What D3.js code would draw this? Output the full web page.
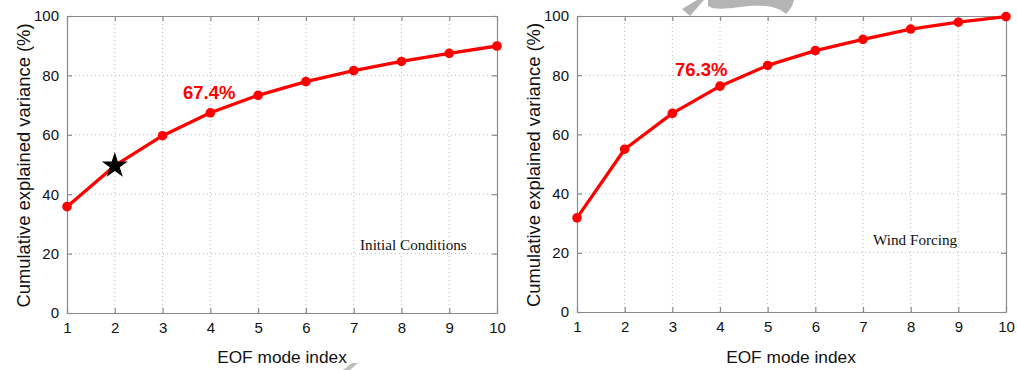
<!DOCTYPE html>
<html>
<head>
<meta charset="utf-8">
<script src="https://cdn.jsdelivr.net/npm/d3@7"></script>
<style>
  html, body { margin: 0; padding: 0; background: #fff; }
  svg { display: block; }
</style>
</head>
<body>
<svg id="chart" width="1017" height="370"></svg>
<script>
// ---- data ----
const modes = [1, 2, 3, 4, 5, 6, 7, 8, 9, 10];
const initialConditions = [35.8, 49.6, 59.7, 67.4, 73.3, 77.9, 81.6, 84.7, 87.4, 89.9];
const windForcing = [31.8, 55.0, 67.1, 76.3, 83.3, 88.3, 92.1, 95.6, 97.9, 99.8];
const xTicks = [1, 2, 3, 4, 5, 6, 7, 8, 9, 10];
const yTicks = [0, 20, 40, 60, 80, 100];
const panelLabels = ["Initial Conditions", "Wind Forcing"];
const highlights = ["67.4%", "76.3%"];
const starMode = 2;              // star marker on the first panel
const xLabel = "EOF mode index";
const yLabel = "Cumulative explained variance (%)";

const svg = d3.select("#chart");

// decorative grey watermark fragments from the scanned page
svg.append("path")
  .attr("d", "M682,9 L697,0 L704,0 L690,16 Z")
  .attr("fill", "#b4b4b4");
svg.append("path")
  .attr("d", "M708,0 L794,0 C793,5 790,10 786,14 C778,6 760,4 740,7 C725,9 714,10 708,6 Z")
  .attr("fill", "#b4b4b4");
svg.append("path")
  .attr("d", "M343,370 L352,363 L358,363 L350,370 Z")
  .attr("fill", "#bdbdbd");

const panels = [
  { data: initialConditions, x0: 67, x1: 497, y0: 313, y1: 16, label: panelLabels[0],
    labelPos: [360, 250], hl: highlights[0], hlPos: [183, 99], star: true, ylabX: 30, xlabX: 282 },
  { data: windForcing, x0: 577, x1: 1006, y0: 312, y1: 16, label: panelLabels[1],
    labelPos: [873, 245], hl: highlights[1], hlPos: [675, 76], star: false, ylabX: 540, xlabX: 791 }
];

const font = "'Liberation Sans', Arial, Helvetica, sans-serif";

panels.forEach((p, pi) => {
  const x = d3.scaleLinear().domain([1, 10]).range([p.x0, p.x1]);
  const y = d3.scaleLinear().domain([0, 100]).range([p.y0, p.y1]);
  const g = svg.append("g");

  // grid
  g.append("g").selectAll("line.vg")
    .data(xTicks.slice(1, -1)).join("line")
    .attr("x1", d => x(d)).attr("x2", d => x(d))
    .attr("y1", p.y0).attr("y2", p.y1)
    .attr("stroke", "#bbb").attr("stroke-width", 1)
    .attr("stroke-dasharray", "1,3");
  g.append("g").selectAll("line.hg")
    .data(yTicks.slice(1, -1)).join("line")
    .attr("x1", p.x0).attr("x2", p.x1)
    .attr("y1", d => y(d)).attr("y2", d => y(d))
    .attr("stroke", "#bbb").attr("stroke-width", 1)
    .attr("stroke-dasharray", "1,3");

  // axes (ticks inside)
  const axB = g.append("g").attr("transform", `translate(0,${p.y0})`)
    .call(d3.axisBottom(x).tickValues(xTicks).tickSizeInner(-5).tickSizeOuter(0).tickPadding(9));
  const axT = g.append("g").attr("transform", `translate(0,${p.y1})`)
    .call(d3.axisTop(x).tickValues(xTicks).tickSizeInner(-5).tickSizeOuter(0).tickFormat(""));
  const axL = g.append("g").attr("transform", `translate(${p.x0},0)`)
    .call(d3.axisLeft(y).tickValues(yTicks).tickSizeInner(-5).tickSizeOuter(0).tickPadding(8));
  const axR = g.append("g").attr("transform", `translate(${p.x1},0)`)
    .call(d3.axisRight(y).tickValues(yTicks).tickSizeInner(-5).tickSizeOuter(0).tickFormat(""));
  [axB, axT, axL, axR].forEach(a => {
    a.select(".domain").attr("stroke", "#8a8a8a").attr("stroke-width", 1.2);
    a.selectAll(".tick line").attr("stroke", "#8a8a8a").attr("stroke-width", 1.2);
    a.selectAll("text").attr("font-family", font).attr("font-size", 15).attr("fill", "#111");
  });

  // line + markers
  const line = d3.line().x((d, i) => x(modes[i])).y(d => y(d));
  g.append("path").datum(p.data)
    .attr("d", line).attr("fill", "none")
    .attr("stroke", "#ff0000").attr("stroke-width", 3.3)
    .attr("stroke-linejoin", "round");
  g.append("g").selectAll("circle")
    .data(p.data).join("circle")
    .attr("cx", (d, i) => x(modes[i])).attr("cy", d => y(d))
    .attr("r", 4.8).attr("fill", "#ff0000");

  if (p.star) {
    const v = p.data[starMode - 1];
    g.append("path")
      .attr("d", d3.symbol(d3.symbolStar, 210)())
      .attr("transform", `translate(${x(starMode)},${y(v)})`)
      .attr("fill", "#000");
  }

  // annotation
  g.append("text").attr("x", p.hlPos[0]).attr("y", p.hlPos[1])
    .attr("font-family", font).attr("font-weight", "bold").attr("font-size", 18.5)
    .attr("fill", "#ff0000").text(p.hl);

  g.append("text").attr("x", p.labelPos[0]).attr("y", p.labelPos[1])
    .attr("font-family", "'Liberation Serif', 'Times New Roman', serif")
    .attr("font-size", 15.2).attr("fill", "#111").text(p.label);

  // axis labels
  g.append("text").attr("x", p.xlabX).attr("y", 363)
    .attr("text-anchor", "middle")
    .attr("font-family", font).attr("font-size", 17.3).attr("fill", "#111").text(xLabel);
  g.append("text")
    .attr("transform", `translate(${p.ylabX},${(p.y0 + p.y1) / 2 + 1}) rotate(-90)`)
    .attr("text-anchor", "middle")
    .attr("font-family", font).attr("font-size", 18.4).attr("fill", "#111").text(yLabel);
});
</script>
</body>
</html>
